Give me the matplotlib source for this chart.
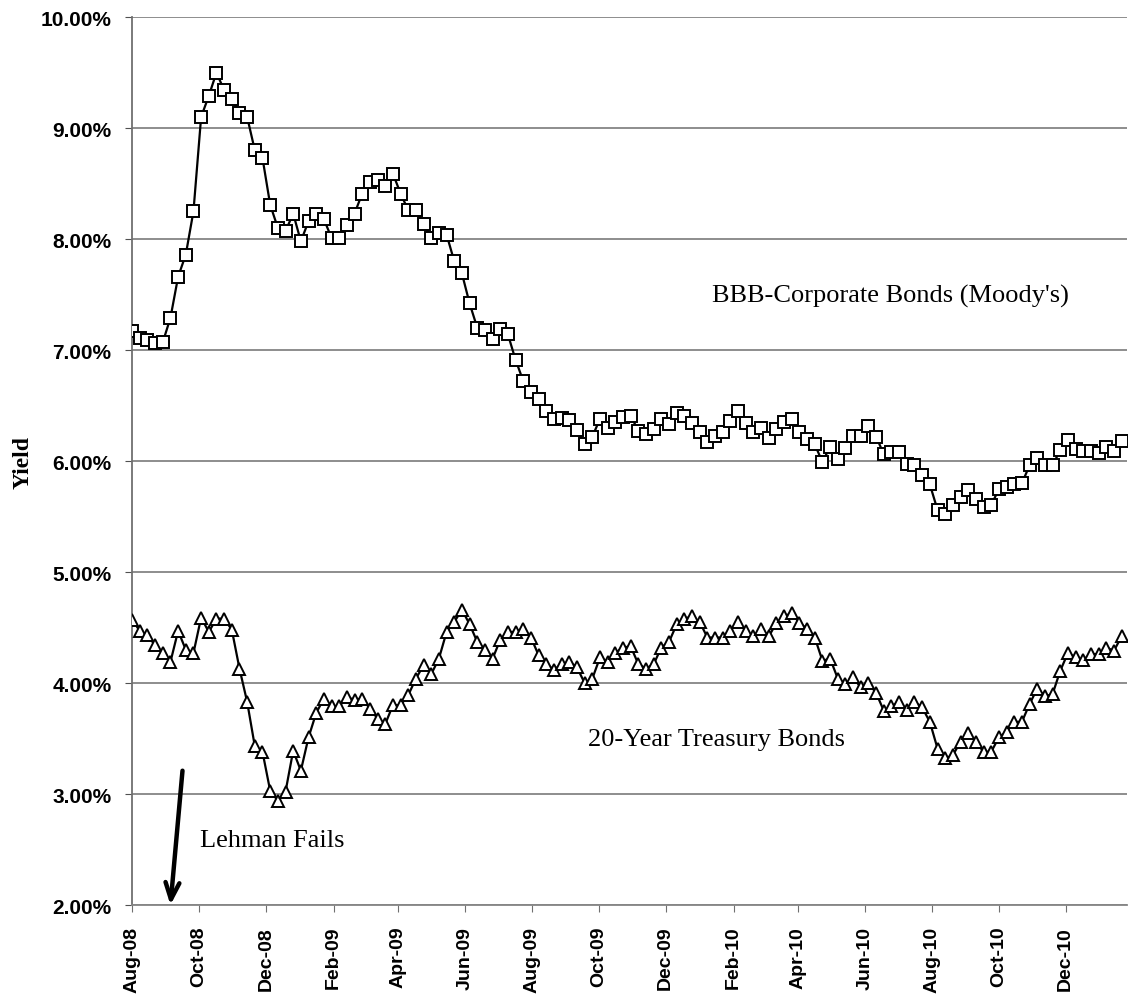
import numpy as np
import pandas as pd
import matplotlib
matplotlib.use('Agg')
from matplotlib import pyplot as plt
import matplotlib.dates as mdates
from matplotlib.ticker import FuncFormatter, MultipleLocator

# weekly observations, Aug 2008 - Jan 2011
START = '2008-08-01'

bbb_yield = [
    7.17, 7.11, 7.09, 7.06, 7.07, 7.29, 7.66, 7.86, 8.25, 9.10,
    9.29, 9.50, 9.34, 9.26, 9.14, 9.10, 8.80, 8.73, 8.31, 8.10,
    8.07, 8.23, 7.98, 8.16, 8.23, 8.18, 8.01, 8.01, 8.13, 8.23,
    8.41, 8.51, 8.53, 8.48, 8.59, 8.41, 8.26, 8.26, 8.14, 8.01,
    8.05, 8.04, 7.80, 7.69, 7.42, 7.20, 7.18, 7.10, 7.19, 7.14,
    6.91, 6.72, 6.62, 6.56, 6.45, 6.38, 6.39, 6.37, 6.28, 6.15,
    6.22, 6.38, 6.30, 6.35, 6.40, 6.41, 6.27, 6.24, 6.29, 6.38,
    6.33, 6.43, 6.41, 6.34, 6.26, 6.17, 6.23, 6.26, 6.36, 6.45,
    6.34, 6.26, 6.30, 6.21, 6.29, 6.35, 6.38, 6.26, 6.20, 6.15,
    5.99, 6.13, 6.02, 6.12, 6.23, 6.23, 6.32, 6.22, 6.06, 6.08,
    6.08, 5.97, 5.96, 5.87, 5.79, 5.56, 5.52, 5.60, 5.68, 5.74,
    5.66, 5.59, 5.60, 5.75, 5.77, 5.79, 5.80, 5.96, 6.03, 5.96,
    5.96, 6.10, 6.19, 6.11, 6.09, 6.09, 6.07, 6.13, 6.09, 6.18,
]

treasury_yield = [
    4.57, 4.47, 4.43, 4.34, 4.27, 4.19, 4.47, 4.30, 4.27, 4.59,
    4.46, 4.58, 4.58, 4.48, 4.13, 3.83, 3.43, 3.38, 3.03, 2.94,
    3.02, 3.39, 3.21, 3.51, 3.73, 3.86, 3.79, 3.79, 3.87, 3.85,
    3.86, 3.77, 3.68, 3.63, 3.80, 3.80, 3.89, 4.04, 4.16, 4.08,
    4.22, 4.46, 4.55, 4.66, 4.53, 4.37, 4.30, 4.22, 4.39, 4.46,
    4.46, 4.49, 4.41, 4.25, 4.17, 4.12, 4.17, 4.19, 4.14, 4.00,
    4.04, 4.23, 4.19, 4.27, 4.32, 4.33, 4.17, 4.13, 4.17, 4.32,
    4.37, 4.53, 4.58, 4.60, 4.55, 4.41, 4.41, 4.41, 4.47, 4.55,
    4.47, 4.42, 4.49, 4.42, 4.54, 4.60, 4.63, 4.54, 4.49, 4.41,
    4.20, 4.22, 4.04, 3.99, 4.05, 3.96, 4.00, 3.91, 3.75, 3.79,
    3.83, 3.76, 3.83, 3.78, 3.65, 3.41, 3.32, 3.35, 3.47, 3.55,
    3.47, 3.38, 3.38, 3.51, 3.56, 3.65, 3.65, 3.81, 3.95, 3.88,
    3.90, 4.11, 4.27, 4.23, 4.21, 4.26, 4.26, 4.32, 4.29, 4.42,
]

dates = pd.date_range(START, periods=len(bbb_yield), freq='7D')

fig = plt.figure(figsize=(11.29, 10.03), dpi=100)
ax = fig.add_axes([0.117, 0.0967, 0.8813, 0.8853])

ax.plot(dates, bbb_yield, color='black', lw=1.6, marker='s', ms=9,
        mfc='white', mec='black', mew=1.4, zorder=3)
ax.plot(dates, treasury_yield, color='black', lw=1.6, marker='^', ms=8.5,
        mfc='white', mec='black', mew=1.4, zorder=3)

ax.set_ylim(2, 10)
ax.set_xlim(pd.Timestamp('2008-08-01'), pd.Timestamp('2011-01-26'))
ax.yaxis.set_major_locator(MultipleLocator(1))
ax.yaxis.set_major_formatter(FuncFormatter(lambda v, p: '%.2f%%' % v))
ax.xaxis.set_major_locator(mdates.MonthLocator(bymonth=[2, 4, 6, 8, 10, 12]))
ax.xaxis.set_major_formatter(mdates.DateFormatter('%b-%y'))

ax.grid(axis='y', color='#858585', lw=1.3)
ax.set_axisbelow(True)
for s in ['top', 'right']:
    ax.spines[s].set_visible(False)
ax.spines['left'].set_color('#707070')
ax.spines['bottom'].set_color('#858585')
ax.spines['left'].set_linewidth(1.3)
ax.spines['bottom'].set_linewidth(1.3)

ax.tick_params(axis='y', length=5, color='#505050', pad=10)
ax.tick_params(axis='x', length=5, color='#707070', pad=10)
for t in ax.get_yticklabels():
    t.set_fontfamily('Liberation Sans')
    t.set_fontweight('bold')
    t.set_fontsize(15)
for t in ax.get_xticklabels():
    t.set_fontfamily('Liberation Sans')
    t.set_fontweight('bold')
    t.set_fontsize(14)
    t.set_rotation(90)

ax.set_ylabel('Yield', fontfamily='Liberation Serif', fontweight='bold',
              fontsize=17)
ax.yaxis.set_label_coords(-0.099, 0.5)

ax.text(pd.Timestamp('2010-06-24'), 7.49, "BBB-Corporate Bonds (Moody's)",
        ha='center', va='center', fontfamily='Liberation Serif', fontsize=19)
ax.text(pd.Timestamp('2010-01-16'), 3.50, '20-Year Treasury Bonds',
        ha='center', va='center', fontfamily='Liberation Serif', fontsize=19)
ax.text(pd.Timestamp('2008-10-02'), 2.59, 'Lehman Fails',
        ha='left', va='center', fontfamily='Liberation Serif', fontsize=19)

ax.annotate('', xy=(pd.Timestamp('2008-09-05'), 2.0),
            xytext=(pd.Timestamp('2008-09-16'), 3.21),
            arrowprops=dict(arrowstyle='->,head_length=1.2,head_width=0.5',
                            color='black', lw=3.2, shrinkA=0, shrinkB=0),
            annotation_clip=False, zorder=5)

fig.savefig('out.png', dpi=100)
